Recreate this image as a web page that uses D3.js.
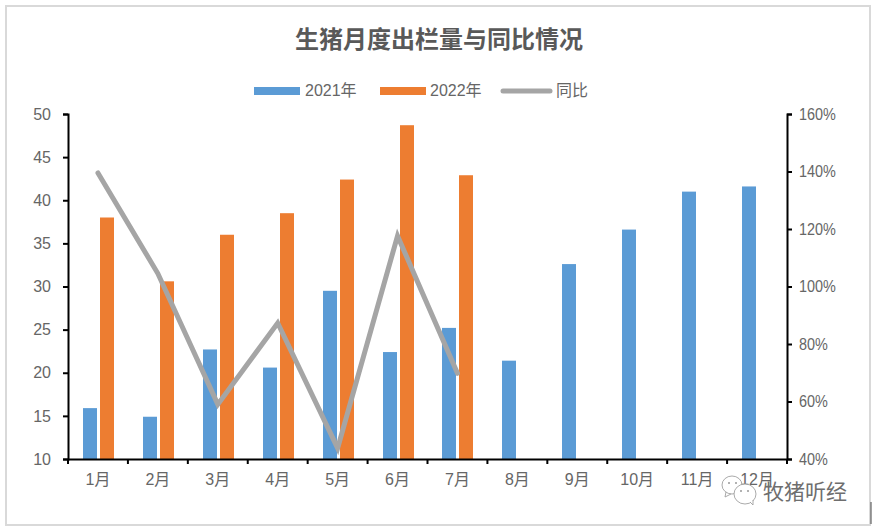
<!DOCTYPE html>
<html><head><meta charset="utf-8">
<script src="https://cdn.jsdelivr.net/npm/d3@7"></script>
<style>html,body{margin:0;padding:0;background:#fff}svg{display:block}text{font-family:"Liberation Sans","Noto Sans CJK SC",sans-serif}</style>
</head><body><div id="c"></div>
<script>
const months=["1月","2月","3月","4月","5月","6月","7月","8月","9月","10月","11月","12月"];
const values2021=[15.9,14.9,22.7,20.6,29.5,22.4,25.2,21.4,32.6,36.6,41.0,41.6];
const values2022=[38.0,30.6,36.0,38.5,42.4,48.7,42.9];
const yoy=[139.5,104.5,59,87.3,43.8,117.6,69.8];
const leftTicks=[10,15,20,25,30,35,40,45,50];
const rightTicks=[40,60,80,100,120,140,160];
const title="生猪月度出栏量与同比情况";
const legendNames=["2021年","2022年","同比"];
const colors=["#5B9BD5","#ED7D31","#A5A5A5"];
const watermark="牧猪听经";

const svg=d3.select("#c").append("svg").attr("width",875).attr("height",530);
svg.append("rect").attr("x",6).attr("y",6).attr("width",864).attr("height",519).attr("fill","#fff").attr("stroke","#D9D9D9").attr("stroke-width",2);

const x0=68,x1=787,y0=459,y1=114;
const x=d3.scaleBand().domain(months).range([x0,x1]);
const yL=d3.scaleLinear().domain([10,50]).range([y0,y1]);
const yR=d3.scaleLinear().domain([40,160]).range([y0,y1]);
const barW=14,off=3;

svg.append("g").selectAll("rect").data(values2021).join("rect")
 .attr("x",(d,i)=>Math.round(x(months[i])+x.bandwidth()/2-off/2-barW+0.5))
 .attr("y",d=>yL(d)).attr("width",barW).attr("height",d=>y0-yL(d)).attr("fill",colors[0]);
svg.append("g").selectAll("rect").data(values2022).join("rect")
 .attr("x",(d,i)=>Math.round(x(months[i])+x.bandwidth()/2+off/2+0.5))
 .attr("y",d=>yL(d)).attr("width",barW).attr("height",d=>y0-yL(d)).attr("fill",colors[1]);

svg.append("path").datum(yoy)
 .attr("d",d3.line().x((d,i)=>x(months[i])+x.bandwidth()/2).y(d=>yR(d)))
 .attr("fill","none").attr("stroke",colors[2]).attr("stroke-width",5).attr("stroke-linecap","round").attr("stroke-linejoin","miter");

function style(g){
 g.selectAll(".domain").attr("stroke","#000").attr("stroke-width",2);
 g.selectAll(".tick line").attr("stroke","#000").attr("stroke-width",2);
 g.selectAll("text").attr("fill","#666").attr("font-size",16);
}
const gL=svg.append("g").attr("transform",`translate(${x0},0)`).call(d3.axisLeft(yL).tickValues(leftTicks).tickSize(5).tickPadding(12));
style(gL);
const gR=svg.append("g").attr("transform",`translate(${x1},0)`).call(d3.axisRight(yR).tickValues(rightTicks).tickFormat(d=>d+"%").tickSize(5).tickPadding(7));
style(gR);
gR.selectAll("text").each(function(){
 const w=this.getComputedTextLength();
 d3.select(this).attr("textLength",w*0.9).attr("lengthAdjust","spacingAndGlyphs");
});
const gB=svg.append("g").attr("transform",`translate(0,${y0})`).call(d3.axisBottom(x).tickSize(0).tickPadding(15));
style(gB);
gB.selectAll("text").attr("dy","0.71em");
svg.append("g").selectAll("line").data(d3.range(months.length+1)).join("line")
 .attr("x1",i=>x0+i*x.step()).attr("x2",i=>x0+i*x.step()).attr("y1",y0).attr("y2",y0+5)
 .attr("stroke","#000").attr("stroke-width",2);

svg.append("text").attr("x",439).attr("y",48).attr("text-anchor","middle").attr("font-size",24).attr("font-weight","bold").attr("fill","#595959").text(title);

const lx=[254,380,503],tx=[305,430,556];
legendNames.forEach((n,i)=>{
 if(i<2) svg.append("rect").attr("x",lx[i]).attr("y",87).attr("width",46).attr("height",8).attr("fill",colors[i]);
 else svg.append("line").attr("x1",lx[i]).attr("x2",lx[i]+47).attr("y1",91).attr("y2",91).attr("stroke",colors[i]).attr("stroke-width",5).attr("stroke-linecap","round");
 svg.append("text").attr("x",tx[i]).attr("y",96).attr("font-size",16).attr("fill","#666").text(n);
});

// WeChat-style watermark
const wm=svg.append("g").attr("fill","none").attr("stroke","#a0a0a0").attr("stroke-width",0.9);
wm.append("ellipse").attr("cx",732).attr("cy",485).attr("rx",10).attr("ry",9);
wm.append("path").attr("d","M726 492 L725 497 L731 494");
wm.append("ellipse").attr("cx",745).attr("cy",494).attr("rx",11).attr("ry",10).attr("fill","#fff");
wm.append("path").attr("d","M750 502 L753 505 L753 500").attr("fill","#fff");
wm.append("g").attr("stroke","none").attr("fill","#999").selectAll("circle")
 .data([[729,483],[736,483],[741,491],[748,491]]).join("circle")
 .attr("cx",d=>d[0]).attr("cy",d=>d[1]).attr("r",1);
svg.append("text").attr("x",763).attr("y",499).attr("font-size",21).attr("fill","#6e6e6e").text(watermark);
svg.append("line").attr("x1",871).attr("x2",871).attr("y1",502).attr("y2",524).attr("stroke","#444").attr("stroke-width",1);
</script></body></html>
